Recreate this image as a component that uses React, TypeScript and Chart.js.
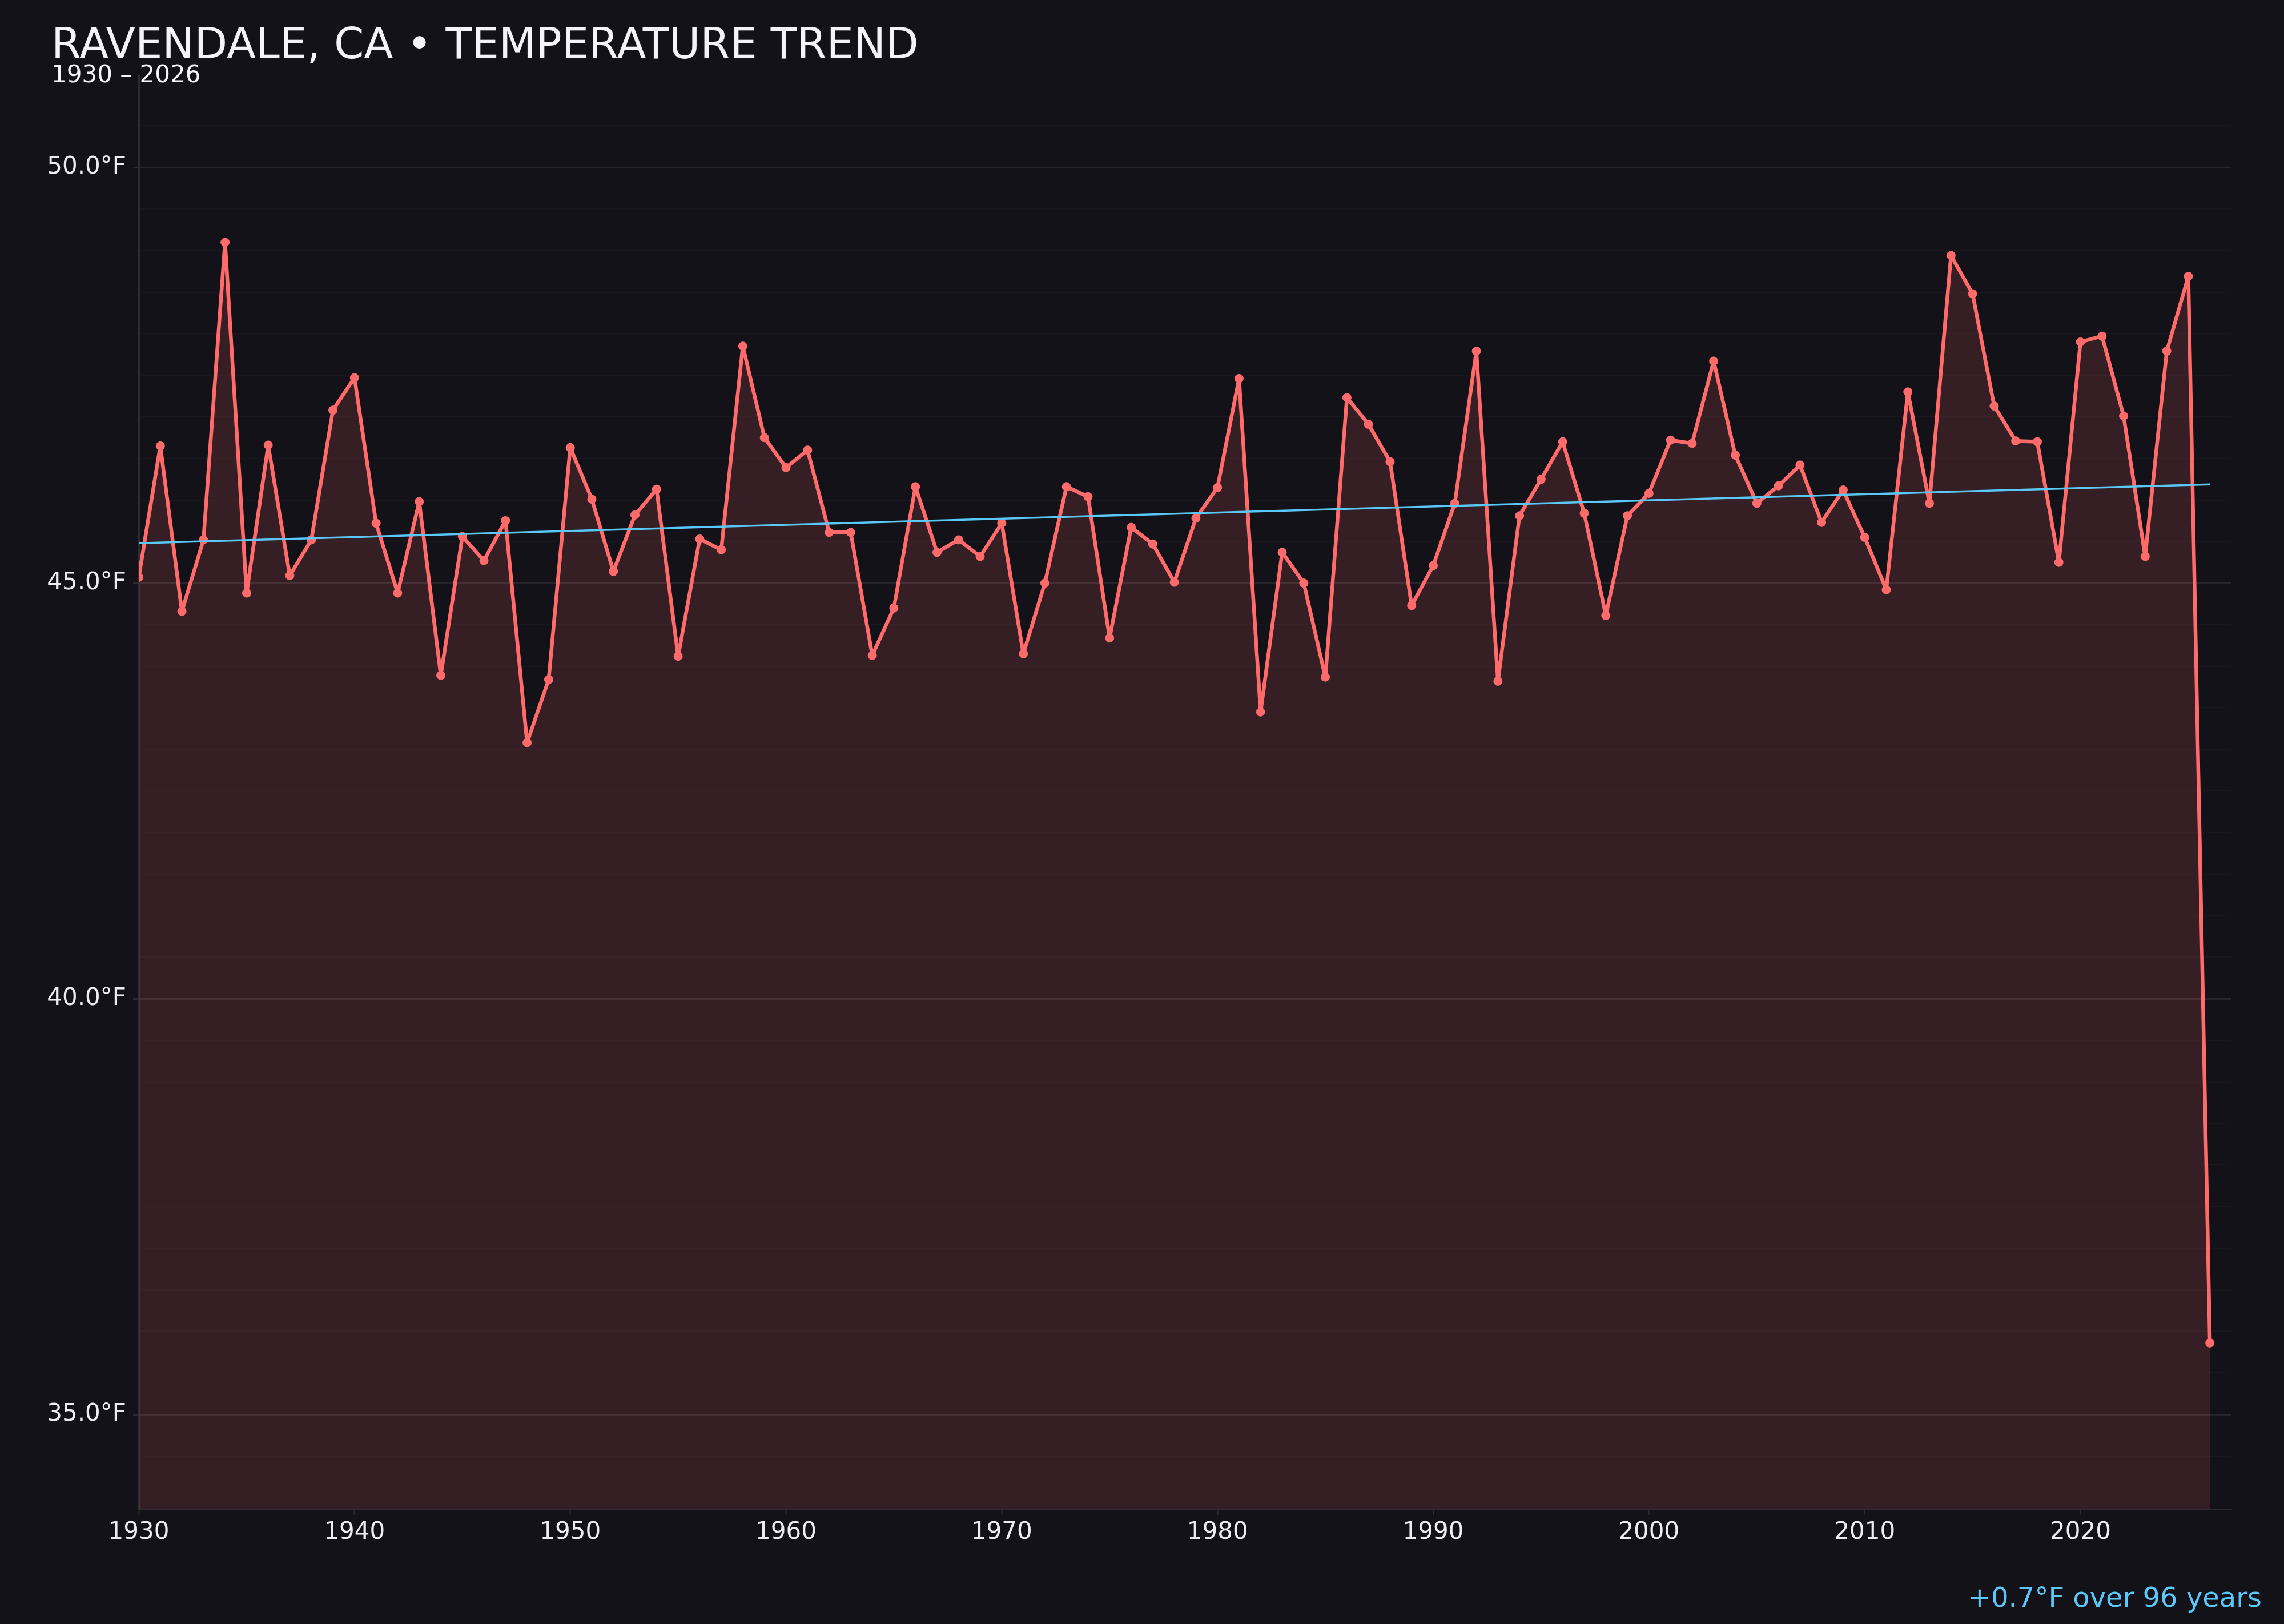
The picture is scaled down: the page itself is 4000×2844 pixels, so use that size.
import React, { useEffect, useRef } from "react";
import { Chart, registerables } from "chart.js";

Chart.register(...registerables);

const titleText = "RAVENDALE, CA • TEMPERATURE TREND";
const subtitleText = "1930 – 2026";
const footerText = "+0.7°F over 96 years";

const startYear = 1930;
// annual mean temperature, °F
const temps = [
    45.07, 46.65, 44.66, 45.52, 49.10, 44.88, 46.66, 45.09, 45.52, 47.08,
    47.47, 45.72, 44.88, 45.98, 43.89, 45.56, 45.27, 45.75, 43.08, 43.84,
    46.63, 46.01, 45.14, 45.82, 46.13, 44.12, 45.53, 45.40, 47.85, 46.75,
    46.39, 46.60, 45.61, 45.61, 44.13, 44.70, 46.16, 45.37, 45.52, 45.32,
    45.72, 44.15, 45.00, 46.16, 46.04, 44.34, 45.67, 45.47, 45.01, 45.78,
    46.15, 47.46, 43.45, 45.37, 45.00, 43.87, 47.23, 46.91, 46.46, 44.73,
    45.21, 45.96, 47.79, 43.82, 45.81, 46.25, 46.70, 45.84, 44.61, 45.81,
    46.08, 46.72, 46.68, 47.67, 46.54, 45.96, 46.17, 46.42, 45.73, 46.12,
    45.55, 44.92, 47.30, 45.96, 48.94, 48.48, 47.13, 46.71, 46.70, 45.25,
    47.90, 47.97, 47.01, 45.32, 47.79, 48.69, 35.86,
];
const years = temps.map((_, i) => startYear + i);
const xTickYears = [1930, 1940, 1950, 1960, 1970, 1980, 1990, 2000, 2010, 2020];
const yMajorTicks = [35, 40, 45, 50];

const BG = "#131218";
const LINE = "#ff6b6b";
const TREND = "#5ac8fa";
const TEXT = "#ececf2";
const AXIS = "#2c2b33";
const FONT = '"DejaVu Sans", sans-serif';

// least squares trend over the whole record
function trendPoints() {
    const n = years.length;
    const mx = years.reduce((a, b) => a + b, 0) / n;
    const my = temps.reduce((a, b) => a + b, 0) / n;
    let num = 0;
    let den = 0;
    for (let i = 0; i < n; i++) {
        num += (years[i] - mx) * (temps[i] - my);
        den += (years[i] - mx) * (years[i] - mx);
    }
    const slope = num / den;
    const first = years[0];
    const last = years[n - 1];
    return [
        { x: first, y: my + slope * (first - mx) },
        { x: last, y: my + slope * (last - mx) },
    ];
}

const textPlugin = {
    id: "headerFooter",
    afterDraw(chart: Chart) {
        const ctx = chart.ctx;
        ctx.save();
        ctx.textAlign = "left";
        ctx.textBaseline = "alphabetic";
        ctx.fillStyle = "#f4f4f8";
        ctx.font = `75px ${FONT}`;
        ctx.fillText(titleText, 90, 102);
        ctx.font = `42px ${FONT}`;
        ctx.fillText(subtitleText, 90, 144);
        ctx.fillStyle = TREND;
        ctx.font = `48px ${FONT}`;
        ctx.textAlign = "right";
        ctx.fillText(footerText, 3961, 2814);
        ctx.restore();
    },
};

const TempChart: React.FC = () => {
    const chartRef = useRef<HTMLCanvasElement | null>(null);
    const chartInstanceRef = useRef<Chart | null>(null);

    useEffect(() => {
        if (!chartRef.current) return;
        const ctx = chartRef.current.getContext("2d");
        if (!ctx) return;

        if (chartInstanceRef.current) {
            chartInstanceRef.current.destroy();
        }

        const isMajor = (v: number) => yMajorTicks.includes(Math.round(v * 100) / 100);

        chartInstanceRef.current = new Chart(ctx, {
            type: "line",
            data: {
                datasets: [
                    {
                        data: trendPoints(),
                        borderColor: TREND,
                        borderWidth: 3.5,
                        pointRadius: 0,
                        fill: false,
                        order: 0,
                    },
                    {
                        data: years.map((y, i) => ({ x: y, y: temps[i] })),
                        borderColor: LINE,
                        borderWidth: 6.5,
                        borderJoinStyle: "round",
                        borderCapStyle: "round",
                        backgroundColor: "rgba(255, 107, 107, 0.15)",
                        pointBackgroundColor: LINE,
                        pointBorderColor: LINE,
                        pointBorderWidth: 1,
                        pointRadius: 7.5,
                        fill: "start",
                        tension: 0,
                        order: 1,
                    },
                ],
            },
            options: {
                animation: false,
                responsive: true,
                maintainAspectRatio: false,
                layout: {
                    padding: { top: 133, right: 92, bottom: 121, left: 0 },
                },
                plugins: {
                    legend: { display: false },
                    tooltip: { enabled: false },
                },
                scales: {
                    x: {
                        type: "linear",
                        min: 1930,
                        max: 2027,
                        afterBuildTicks: (scale: any) => {
                            scale.ticks = xTickYears.map((v) => ({ value: v }));
                        },
                        afterFit: (scale: any) => {
                            scale.height = 80;
                        },
                        ticks: {
                            color: TEXT,
                            font: { family: FONT, size: 42 },
                            padding: 6,
                            autoSkip: false,
                            maxRotation: 0,
                            callback: (v: any) => String(v),
                        },
                        grid: {
                            drawOnChartArea: false,
                            drawTicks: true,
                            tickLength: 10,
                            tickColor: AXIS,
                            tickWidth: 2,
                        },
                        border: { color: AXIS, width: 3 },
                    },
                    y: {
                        type: "linear",
                        min: Math.min(...temps) - 2,
                        max: Math.max(...temps) + 2,
                        afterBuildTicks: (scale: any) => {
                            scale.ticks = scale.ticks.filter(
                                (t: any) => Math.abs(t.value * 2 - Math.round(t.value * 2)) < 1e-6
                            );
                        },
                        afterFit: (scale: any) => {
                            scale.width = 243;
                        },
                        ticks: {
                            stepSize: 0.5,
                            color: TEXT,
                            font: { family: FONT, size: 42 },
                            padding: 12,
                            autoSkip: false,
                            callback: (v: any) => (isMajor(Number(v)) ? `${Number(v).toFixed(1)}°F` : ""),
                        },
                        grid: {
                            color: (c: any) =>
                                c.tick && isMajor(c.tick.value) ? "#26252c" : "rgba(255, 255, 255, 0.025)",
                            lineWidth: (c: any) => (c.tick && isMajor(c.tick.value) ? 3 : 2),
                            tickLength: 10,
                            tickColor: (c: any) => (c.tick && isMajor(c.tick.value) ? AXIS : "rgba(0,0,0,0)"),
                            tickWidth: 3,
                        },
                        border: { color: AXIS, width: 3 },
                    },
                },
            },
            plugins: [textPlugin],
        });

        return () => {
            if (chartInstanceRef.current) {
                chartInstanceRef.current.destroy();
                chartInstanceRef.current = null;
            }
        };
    }, []);

    return (
        <div style={{ position: "fixed", left: 0, top: 0, width: "4000px", height: "2844px", background: BG }}>
            <canvas ref={chartRef}></canvas>
        </div>
    );
};

export default function App() {
    return <TempChart />;
}
